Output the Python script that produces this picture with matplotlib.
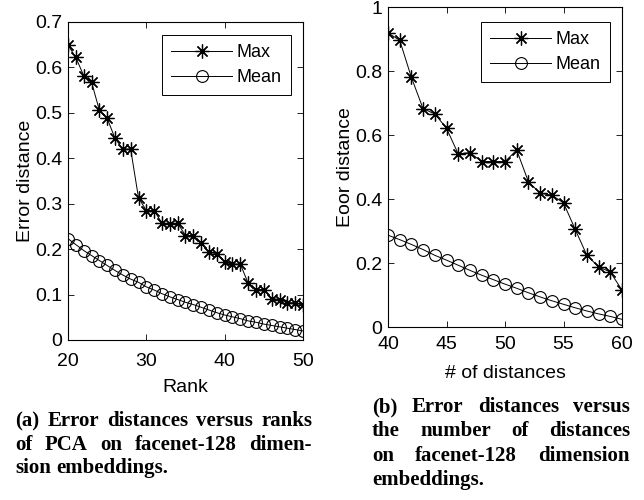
import matplotlib
matplotlib.use("Agg")
import matplotlib.pyplot as plt

# (a) error distance vs PCA rank
rank = list(range(20, 51))
rank_max = [0.649, 0.622, 0.582, 0.568, 0.506, 0.488, 0.444, 0.420, 0.420, 0.313,
            0.285, 0.285, 0.257, 0.256, 0.257, 0.230, 0.230, 0.213, 0.193, 0.190,
            0.171, 0.167, 0.167, 0.125, 0.111, 0.111, 0.091, 0.089, 0.082, 0.082,
            0.076]
rank_mean = [0.223, 0.210, 0.197, 0.186, 0.175, 0.164, 0.153, 0.143, 0.134, 0.127,
             0.117, 0.110, 0.102, 0.095, 0.089, 0.083, 0.078, 0.072, 0.066, 0.060,
             0.055, 0.051, 0.047, 0.042, 0.039, 0.035, 0.032, 0.029, 0.026, 0.023,
             0.020]

# (b) error distance vs number of distances
ndist = list(range(40, 61))
ndist_max = [0.919, 0.896, 0.780, 0.682, 0.666, 0.621, 0.541, 0.545, 0.517, 0.517,
             0.517, 0.553, 0.454, 0.418, 0.412, 0.388, 0.305, 0.224, 0.188, 0.172,
             0.115]
ndist_mean = [0.287, 0.273, 0.258, 0.242, 0.224, 0.209, 0.193, 0.177, 0.162, 0.148,
              0.134, 0.121, 0.107, 0.094, 0.082, 0.071, 0.060, 0.050, 0.041, 0.033,
              0.024]

caption_a = ["(a) Error distances versus ranks",
             "of PCA on facenet-128 dimen-",
             "sion embeddings."]
caption_b = ["(b) Error distances versus",
             "the number of distances",
             "on facenet-128 dimension",
             "embeddings."]

W, H = 644, 500
plt.rcParams['font.family'] = ['Liberation Sans', 'DejaVu Sans']
fig = plt.figure(figsize=(W / 100, H / 100), dpi=100)


def setup(ax, xpad):
    ax.tick_params(direction='in', top=True, right=True, length=4, width=0.6,
                   labelsize=14)
    ax.tick_params(axis='x', pad=xpad)
    ax.tick_params(axis='y', pad=4)
    for s in ax.spines.values():
        s.set_linewidth(0.8)


def draw(ax, x, ymax, ymean, top_gap):
    ax.plot(x, ymax, color='black', lw=0.7, marker=(8, 2, 0), ms=10, mew=0.9,
            label='Max')
    ax.plot(x, ymean, color='black', lw=0.7, marker='o', ms=8.5, mew=0.8,
            mfc='none', label='Mean')
    bb = ax.get_position()
    leg = ax.legend(loc='upper right', fontsize=13, handlelength=3.4, fancybox=False,
                    edgecolor='black', framealpha=1, borderpad=0.5,
                    labelspacing=0.45, handletextpad=0.25, borderaxespad=0,
                    bbox_to_anchor=(1 - 12 / (bb.width * W), 1 - top_gap / (bb.height * H)))
    leg.get_frame().set_linewidth(0.7)


ax1 = fig.add_axes([68 / W, 1 - 340 / H, 235 / W, 318 / H])
draw(ax1, rank, rank_max, rank_mean, 13)
ax1.set_xlim(20, 50)
ax1.set_ylim(0, 0.7)
ax1.set_xticks([20, 30, 40, 50])
ax1.set_yticks([0, 0.1, 0.2, 0.3, 0.4, 0.5, 0.6, 0.7])
ax1.set_yticklabels(['0', '0.1', '0.2', '0.3', '0.4', '0.5', '0.6', '0.7'])
ax1.set_xlabel('Rank', fontsize=14, labelpad=6.5)
ax1.set_ylabel('Error distance', fontsize=14, labelpad=1)
setup(ax1, 9.5)

ax2 = fig.add_axes([388 / W, 1 - 327 / H, 234 / W, 320 / H])
draw(ax2, ndist, ndist_max, ndist_mean, 15)
ax2.set_xlim(40, 60)
ax2.set_ylim(0, 1)
ax2.set_xticks([40, 45, 50, 55, 60])
ax2.set_yticks([0, 0.2, 0.4, 0.6, 0.8, 1])
ax2.set_yticklabels(['0', '0.2', '0.4', '0.6', '0.8', '1'])
ax2.set_xlabel('# of distances', fontsize=14, labelpad=8.5)
ax2.set_ylabel('Eoor distance', fontsize=14, labelpad=1)
setup(ax2, 6.5)


def justify(lines, x0, x1, y0, dy):
    r = fig.canvas.get_renderer()
    font = dict(family='Liberation Serif', fontweight='bold', fontsize=15)
    for k, line in enumerate(lines):
        words = line.split()
        y = 1 - (y0 + k * dy) / H
        txts = [fig.text(0, y, w, va='baseline', ha='left', **font) for w in words]
        widths = [t.get_window_extent(r).width for t in txts]
        if k == len(lines) - 1 or len(words) == 1:
            gap = 5
        else:
            gap = (x1 - x0 - sum(widths)) / (len(words) - 1)
        x = x0
        for t, w in zip(txts, widths):
            t.set_x(x / W)
            x += w + gap


justify(caption_a, 15, 312, 426, 23.5)
justify(caption_b, 372, 630, 412, 24.5)

fig.savefig('out.png', dpi=100)
